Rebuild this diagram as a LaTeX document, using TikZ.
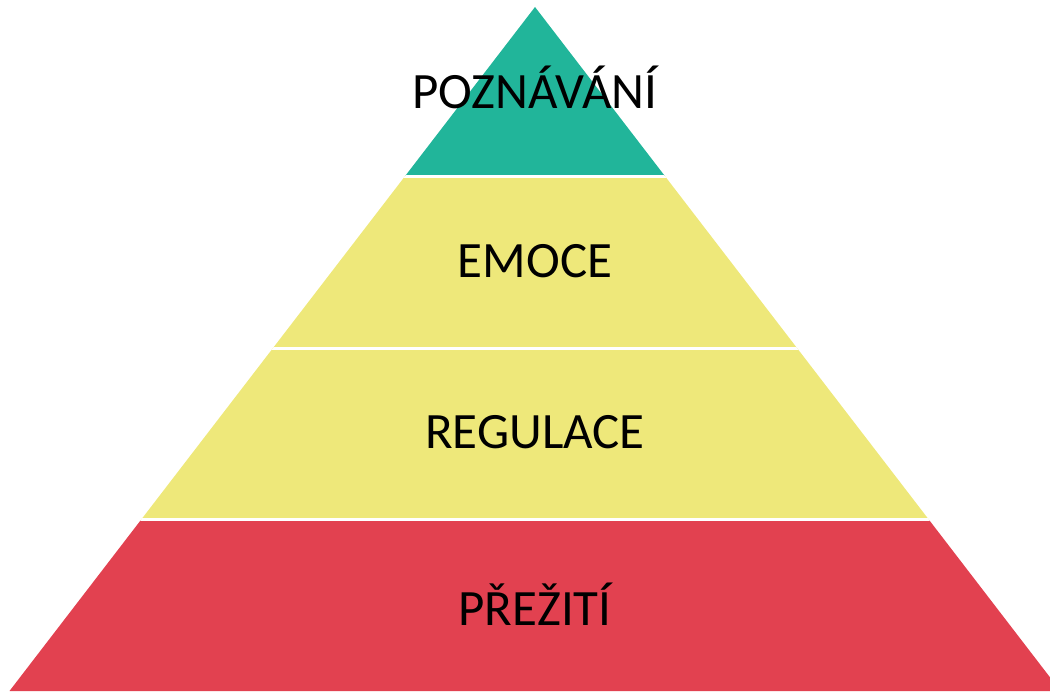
\documentclass[tikz,border=0pt]{standalone}
\usepackage{fontspec}
\setmainfont{Carlito}
\definecolor{topgreen}{RGB}{33,181,154}
\definecolor{midyellow}{RGB}{238,232,122}
\definecolor{basered}{RGB}{226,65,80}
\begin{document}
\begin{tikzpicture}[x=0.02cm, y=-0.02cm,
    label/.style={font=\fontsize{29}{34}\selectfont, inner sep=0pt, text=black}]
    \useasboundingbox (0,0) rectangle (1050,692);
    \clip (0,0) rectangle (1050,692);
    % pyramid, cut into bands
    \begin{scope}
        \clip (535,7) -- (1060.5,691) -- (9.5,691) -- cycle;
        \fill[color=topgreen] (0,0) rectangle (1100,176.5);
        \fill[color=midyellow] (0,176.5) rectangle (1100,519.5);
        \fill[color=basered] (0,519.5) rectangle (1100,692);
        \draw[white, line width=0.06cm] (0,176.5) -- (1100,176.5);
        \draw[white, line width=0.06cm] (0,348.5) -- (1100,348.5);
        \draw[white, line width=0.06cm] (0,519.5) -- (1100,519.5);
    \end{scope}
    \node[label] (poznavani) at (535,87) {POZNÁVÁNÍ};
    \node[label] (emoce) at (535,261) {EMOCE};
    \node[label] (regulace) at (535,432) {REGULACE};
    \node[label] (preziti) at (535,604) {PŘEŽITÍ};
\end{tikzpicture}
\end{document}
